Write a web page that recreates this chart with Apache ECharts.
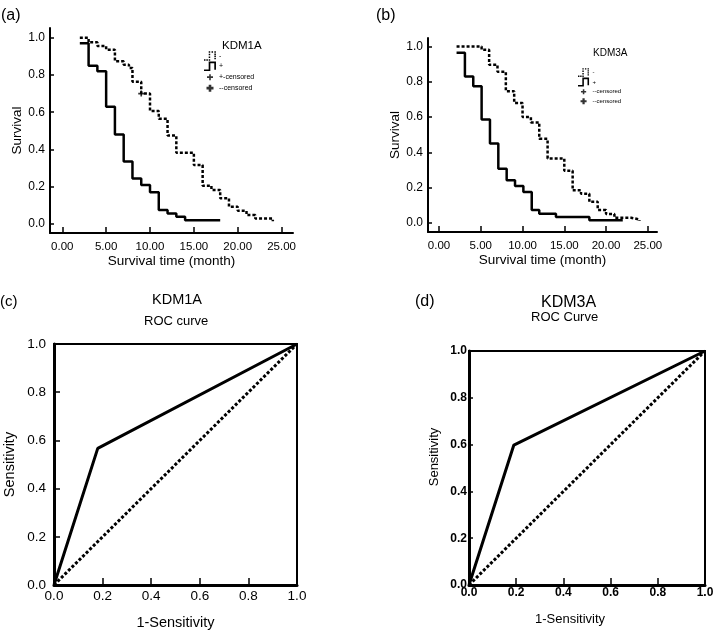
<!DOCTYPE html>
<html><head><meta charset="utf-8">
<script src="https://cdn.jsdelivr.net/npm/echarts@6/dist/echarts.min.js"></script>
<style>html,body{margin:0;padding:0;background:#fff}#c{width:714px;height:631px}</style>
</head><body><div id="c"></div>
<script>
// ---------- data ----------
const kmTicksX = [0, 5, 10, 15, 20, 25];
const kmTicksY = [0, 0.2, 0.4, 0.6, 0.8, 1.0];

// (a) KDM1A Kaplan-Meier
const aNegTime = [2, 3, 4, 5, 6, 7, 7.6, 8, 9, 10, 11, 12, 13, 15, 16, 17, 18, 19, 20, 21, 22, 24];
const aNegSurv = [1.0, 0.975, 0.955, 0.935, 0.873, 0.855, 0.838, 0.764, 0.70, 0.607, 0.565, 0.475, 0.383, 0.317, 0.206, 0.183, 0.138, 0.093, 0.071, 0.048, 0.03, 0.015];
const aPosTime = [2, 3, 4, 5, 6, 7, 8, 9, 10, 11, 12, 13, 14, 18];
const aPosSurv = [0.97, 0.85, 0.82, 0.63, 0.48, 0.335, 0.245, 0.21, 0.17, 0.075, 0.057, 0.039, 0.021, 0.021];
const aCensTime = [9];
const aCensSurv = [0.70];

// (b) KDM3A Kaplan-Meier
const bNegTime = [2.1, 5.1, 6, 7, 8, 9, 10, 11, 12, 13, 15, 16, 17, 18, 19, 20, 21, 23, 24];
const bNegSurv = [1.0, 0.981, 0.896, 0.857, 0.747, 0.68, 0.6, 0.57, 0.477, 0.366, 0.296, 0.185, 0.165, 0.12, 0.074, 0.051, 0.03, 0.02, 0.012];
const bPosTime = [2.1, 3.1, 4.1, 5.1, 6.1, 7.1, 8.1, 9.1, 10.1, 11.1, 12, 14, 18, 22];
const bPosSurv = [0.964, 0.83, 0.775, 0.587, 0.45, 0.308, 0.242, 0.21, 0.176, 0.074, 0.053, 0.034, 0.015, 0.015];

// (c)/(d) ROC curves
const cFpr = [0, 0.18, 1];
const cTpr = [0, 0.567, 1];
const dFpr = [0, 0.19, 1];
const dTpr = [0, 0.598, 1];
const refLine = [0, 1];

const legendNames = {
  'a-': '-', 'a+': '+', 'a+cens': '+-censored', 'a-cens': '--censored',
  'b-': '-', 'b+': '+', 'b+cens': '--censored', 'b-cens': '--censored'
};

// ---------- helpers ----------
const zip = (xs, ys) => xs.map((x, i) => [x, ys[i]]);
const FONT = 'Liberation Sans, Arial, sans-serif';
const BLACK = '#000';

function rect(x, y, w, h) { return `M${x} ${y}h${w}v${h}h${-w}Z`; }
function stepPts() { return [[0, 9.5], [5, 9.5], [5, 1], [11, 1], [11, 8]]; }
function solidStepIcon() {
  const t = 1.8, p = stepPts();
  let s = 'path://M0 0M13 11';
  for (let i = 0; i < p.length - 1; i++) {
    const [x1, y1] = p[i], [x2, y2] = p[i + 1];
    const x = Math.min(x1, x2) - t / 2, y = Math.min(y1, y2) - t / 2;
    s += rect(x, y, Math.abs(x2 - x1) + t, Math.abs(y2 - y1) + t);
  }
  return s;
}
function dashedStepIcon() {
  const d = 1.6, pitch = 2.6, p = stepPts();
  let s = 'path://M0 0M13 11';
  for (let i = 0; i < p.length - 1; i++) {
    const [x1, y1] = p[i], [x2, y2] = p[i + 1];
    const len = Math.hypot(x2 - x1, y2 - y1);
    const n = Math.max(1, Math.round(len / pitch));
    for (let k = 0; k <= n; k++) {
      const x = x1 + (x2 - x1) * k / n, y = y1 + (y2 - y1) * k / n;
      s += rect(x - d / 2, y - d / 2, d, d);
    }
  }
  return s;
}
function plusIcon(th, sz) {
  const cx = 6, cy = 5.5, h = sz / 2, t = th / 2;
  return 'path://M0 0M13 11' + rect(cx - t, cy - h, th, sz) + rect(cx - h, cy - t, sz, th);
}
const plusMark = 'path://' + rect(4, 0, 3, 11) + rect(0, 4, 11, 3);

function kmX(grid, min, max) {
  return {
    gridIndex: grid, type: 'value', min: min, max: max,
    axisLine: { onZero: false, lineStyle: { color: BLACK, width: 2 } },
    axisTick: { inside: true, length: 6, customValues: kmTicksX, lineStyle: { color: BLACK, width: 1.5 } },
    axisLabel: { customValues: kmTicksX, formatter: v => v.toFixed(2), margin: 8, fontSize: 11.5, color: BLACK, fontFamily: FONT },
    splitLine: { show: false },
    name: 'Survival time (month)', nameLocation: 'middle', nameGap: 14,
    nameTextStyle: { fontSize: 13.5, color: BLACK, fontFamily: FONT }
  };
}
function kmY(grid, min, max) {
  return {
    gridIndex: grid, type: 'value', min: min, max: max,
    axisLine: { onZero: false, lineStyle: { color: BLACK, width: 2 } },
    axisTick: { inside: true, length: 4, customValues: kmTicksY, lineStyle: { color: BLACK, width: 1.5 } },
    axisLabel: { customValues: kmTicksY, formatter: v => v.toFixed(1), margin: 5, fontSize: 12, color: BLACK, fontFamily: FONT },
    splitLine: { show: false },
    name: 'Survival', nameLocation: 'middle', nameGap: 23,
    nameTextStyle: { fontSize: 13.5, color: BLACK, fontFamily: FONT }
  };
}
function rocAxis(grid, isX, bold) {
  return {
    gridIndex: grid, type: 'value', min: 0, max: 1, interval: 0.2,
    axisLine: { onZero: false, lineStyle: { color: BLACK, width: 3 } },
    axisTick: { inside: true, length: isX ? 7 : (bold ? 4 : 6), lineStyle: { color: BLACK, width: 1.5 } },
    axisLabel: { formatter: v => v.toFixed(1), margin: bold ? 2 : (isX ? 4 : 8), fontSize: bold ? 12 : 13.5,
      fontWeight: bold ? 'bold' : 'normal', color: BLACK, fontFamily: FONT },
    splitLine: { show: false },
    name: isX ? '1-Sensitivity' : 'Sensitivity', nameLocation: 'middle',
    nameGap: isX ? (bold ? 28 : 30) : (bold ? 28 : 37),
    nameTextStyle: { fontSize: bold ? 13 : 14.5, color: BLACK, fontFamily: FONT,
      padding: bold ? (isX ? [0, 34, 0, 0] : [0, 0, 0, 22]) : 0 }
  };
}
function kmLine(name, xi, t, s, dashed) {
  return { type: 'line', name: name, xAxisIndex: xi, yAxisIndex: xi, step: 'end', data: zip(t, s),
    showSymbol: false, symbol: 'none', silent: true,
    lineStyle: { color: BLACK, width: 2.5, type: dashed ? [3, 2] : 'solid' }, itemStyle: { color: BLACK } };
}
function censor(name, xi, t, s) {
  return { type: 'scatter', name: name, xAxisIndex: xi, yAxisIndex: xi, data: zip(t, s), symbol: plusMark,
    symbolSize: 6, silent: true, itemStyle: { color: BLACK } };
}
function rocLine(xi, x, y, dotted) {
  return { type: 'line', xAxisIndex: xi, yAxisIndex: xi, data: zip(x, y), showSymbol: false, symbol: 'none', silent: true,
    lineStyle: { color: BLACK, width: 3, type: dotted ? [3, 2] : 'solid' } };
}
function legend(left, top, h, fs, items) {
  return { left: left, top: top, orient: 'vertical', itemWidth: 13, itemHeight: h, itemGap: 0, padding: 0,
    selectedMode: false, symbolKeepAspect: true, itemStyle: { borderWidth: 0 },
    textStyle: { fontSize: fs, color: BLACK, fontFamily: FONT, padding: [0, 0, 0, -3] },
    formatter: n => legendNames[n], data: items };
}
function title(text, left, top, fs, bold) {
  return { text: text, left: left, top: top, padding: 0,
    textStyle: { fontSize: fs, fontWeight: bold ? 'bold' : 'normal', color: BLACK, fontFamily: FONT } };
}

const option = {
  animation: false,
  backgroundColor: '#fff',
  title: [
    title('(a)', 1, 8, 16), title('(b)', 376, 8, 16), title('(c)', 0, 294, 15), title('(d)', 415, 294, 16),
    title('KDM1A', 222, 40, 11.5), title('KDM3A', 593, 48, 10),
    title('KDM1A', 152, 292, 14.5), title('ROC curve', 144, 315, 13),
    title('KDM3A', 541, 295, 16), title('ROC Curve', 531, 311, 13)
  ],
  legend: [
    legend(204, 51, 11, 7, [
      { name: 'a-', icon: dashedStepIcon() }, { name: 'a+', icon: solidStepIcon() },
      { name: 'a+cens', icon: plusIcon(1.6, 6) }, { name: 'a-cens', icon: plusIcon(2.6, 7) }]),
    legend(578, 68, 9.5, 6, [
      { name: 'b-', icon: dashedStepIcon() }, { name: 'b+', icon: solidStepIcon() },
      { name: 'b+cens', icon: plusIcon(1.8, 6) }, { name: 'b-cens', icon: plusIcon(2.6, 7) }])
  ],
  grid: [
    { left: 50, top: 28, width: 243, height: 205, outerBoundsMode: 'none' },
    { left: 428, top: 38, width: 229, height: 194, outerBoundsMode: 'none' },
    { left: 54, top: 344, width: 243, height: 241, show: true, borderColor: BLACK, borderWidth: 2, backgroundColor: 'transparent', outerBoundsMode: 'none' },
    { left: 469, top: 351, width: 236, height: 234, show: true, borderColor: BLACK, borderWidth: 2, backgroundColor: 'transparent', outerBoundsMode: 'none' }
  ],
  xAxis: [kmX(0, -1.4, 26.3), kmX(1, -1.32, 26.1), rocAxis(2, true, false), rocAxis(3, true, true)],
  yAxis: [kmY(0, -0.048, 1.052), kmY(1, -0.051, 1.048), rocAxis(2, false, false), rocAxis(3, false, true)],
  series: [
    kmLine('a-', 0, aNegTime, aNegSurv, true),
    kmLine('a+', 0, aPosTime, aPosSurv, false),
    censor('a+cens', 0, aCensTime, aCensSurv),
    censor('a-cens', 0, [], []),
    kmLine('b-', 1, bNegTime, bNegSurv, true),
    kmLine('b+', 1, bPosTime, bPosSurv, false),
    censor('b+cens', 1, [], []),
    censor('b-cens', 1, [], []),
    rocLine(2, refLine, refLine, true),
    rocLine(2, cFpr, cTpr, false),
    rocLine(3, refLine, refLine, true),
    rocLine(3, dFpr, dTpr, false)
  ]
};
const chart = echarts.init(document.getElementById('c'), null, { renderer: 'canvas' });
chart.setOption(option);
</script></body></html>
